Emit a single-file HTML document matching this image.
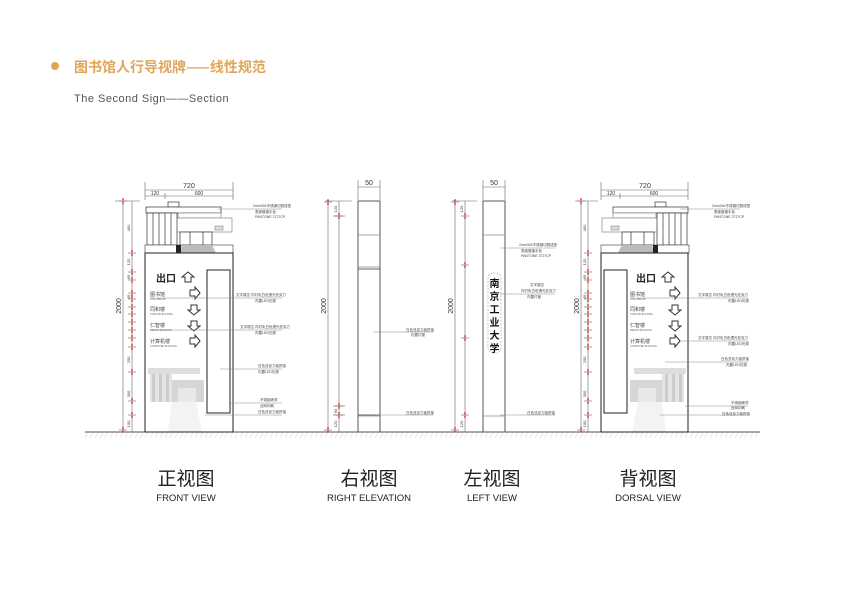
<!DOCTYPE html>
<html><head><meta charset="utf-8"><style>
html,body{margin:0;padding:0;background:#fff;}
svg{display:block;}
text{font-family:"Liberation Sans","Noto Sans CJK SC",sans-serif;}
.cj{font-family:"Noto Sans CJK SC",sans-serif;}
</style></head><body>
<svg width="844" height="600" viewBox="0 0 844 600" xmlns="http://www.w3.org/2000/svg">
<defs>
<pattern id="hatch" width="5" height="6" patternUnits="userSpaceOnUse">
<line x1="0" y1="6" x2="3" y2="0" stroke="#ccc" stroke-width="0.5"/>
</pattern>
<g id="bldg" fill="#fff" stroke="#333" stroke-width="0.7">
<rect x="168" y="202" width="11" height="5"/>
<rect x="146" y="207" width="75" height="6"/>
<rect x="178" y="213" width="43" height="5" stroke="#888"/>
<rect x="176" y="218" width="56" height="14" stroke="#888"/>
<rect x="147" y="213" width="30" height="32"/>
<line x1="153" y1="213" x2="153" y2="245"/><line x1="159" y1="213" x2="159" y2="245"/>
<line x1="165" y1="213" x2="165" y2="245"/><line x1="171" y1="213" x2="171" y2="245"/>
<rect x="180" y="232" width="32" height="13"/>
<line x1="190" y1="232" x2="190" y2="245"/><line x1="203" y1="232" x2="203" y2="245"/>
<rect x="145" y="245" width="88" height="8" stroke="#555"/>
<polygon points="182,245 212,245 216,253 180,253" fill="#bbb" stroke="none"/>
<rect x="176" y="245" width="5" height="8" fill="#222" stroke="none"/>
<rect x="215" y="226" width="8" height="4" fill="#ddd" stroke="#999"/>
</g>
<g id="photo" fill="#ddd" stroke="none">
<rect x="148" y="368" width="52" height="6"/>
<rect x="150" y="374" width="22" height="28" fill="#e4e4e4"/>
<rect x="152" y="374" width="3" height="28" fill="#ccc"/><rect x="159" y="374" width="3" height="28" fill="#ccc"/><rect x="166" y="374" width="3" height="28" fill="#ccc"/>
<rect x="172" y="380" width="32" height="22" fill="#d6d6d6"/>
<rect x="178" y="388" width="18" height="14" fill="#e8e8e8"/>
<polygon points="172,402 196,402 202,432 168,432" fill="#f3f3f3"/>
</g>
<g id="arR"><path d="M0,-3 L5,-3 L5,-6 L10,0 L5,6 L5,3 L0,3 Z" fill="#fff" stroke="#333" stroke-width="1"/></g>
<g id="arD"><path d="M-3,0 L-3,5 L-6,5 L0,10 L6,5 L3,5 L3,0 Z" fill="#fff" stroke="#333" stroke-width="1"/></g>
<g id="arU"><path d="M-3,10 L-3,5 L-6,5 L0,0 L6,5 L3,5 L3,10 Z" fill="#fff" stroke="#333" stroke-width="1"/></g>
<g id="tk"><line x1="-4" y1="0" x2="4" y2="0" stroke="#666" stroke-width="0.6"/><path d="M-1,-2.5 L1,-2.5 L0,0 Z M-1,2.5 L1,2.5 L0,0 Z" fill="#e00"/></g>
</defs>

<circle cx="55" cy="66" r="4" fill="#e0a45a"/>
<text x="74" y="72" class="cj" font-size="14" fill="#e0a45a" font-weight="bold">图书馆人行导视牌——线性规范</text>
<text x="74" y="102" font-size="11" fill="#555" letter-spacing="0.5">The Second Sign——Section</text>

<rect x="85" y="432" width="675" height="6" fill="url(#hatch)"/>
<line x1="85" y1="432" x2="760" y2="432" stroke="#555" stroke-width="1"/>

<!-- FRONT VIEW -->
<g stroke="#666" stroke-width="0.6" fill="none">
<line x1="145" y1="182" x2="145" y2="200"/><line x1="233" y1="182" x2="233" y2="200"/>
<line x1="145" y1="190" x2="233" y2="190"/><line x1="145" y1="196" x2="233" y2="196"/>
<line x1="165" y1="193" x2="165" y2="199"/>
<line x1="115" y1="201" x2="140" y2="201"/>
<line x1="123" y1="201" x2="123" y2="432"/><line x1="132" y1="201" x2="132" y2="432"/>
</g>
<text x="189" y="188" font-size="7" fill="#333" text-anchor="middle">720</text>
<text x="155" y="195" font-size="5" fill="#333" text-anchor="middle">120</text>
<text x="199" y="195" font-size="5" fill="#333" text-anchor="middle">600</text>
<text transform="translate(121,306) rotate(-90)" font-size="7" fill="#333" text-anchor="middle">2000</text>
<g font-size="4" fill="#333">
<text transform="translate(130,228) rotate(-90)" text-anchor="middle">400</text>
<text transform="translate(130,262) rotate(-90)" text-anchor="middle">120</text>
<text transform="translate(130,277) rotate(-90)" text-anchor="middle">60</text>
<text transform="translate(130,297) rotate(-90)" text-anchor="middle">40</text>
<text transform="translate(130,360) rotate(-90)" text-anchor="middle">200</text>
<text transform="translate(130,394) rotate(-90)" text-anchor="middle">300</text>
<text transform="translate(130,424) rotate(-90)" text-anchor="middle">100</text>
</g>
<g>
<use href="#tk" x="123" y="201"/><use href="#tk" x="132" y="253"/><use href="#tk" x="132" y="272"/><use href="#tk" x="132" y="280"/><use href="#tk" x="132" y="293"/><use href="#tk" x="132" y="299"/><use href="#tk" x="132" y="307"/><use href="#tk" x="132" y="314"/><use href="#tk" x="132" y="322"/><use href="#tk" x="132" y="330"/><use href="#tk" x="132" y="338"/><use href="#tk" x="132" y="347"/><use href="#tk" x="132" y="372"/><use href="#tk" x="132" y="401"/><use href="#tk" x="132" y="415"/><use href="#tk" x="123" y="430"/>
</g>
<use href="#bldg"/>
<use href="#photo"/>
<rect x="145" y="253" width="88" height="179" fill="none" stroke="#222" stroke-width="1"/>
<rect x="207" y="270" width="23" height="143" fill="none" stroke="#222" stroke-width="1"/>
<text x="156" y="282" class="cj" font-size="10" font-weight="bold" fill="#222">出口</text>
<use href="#arU" x="188" y="272"/>
<g class="cj" font-size="5" fill="#444">
<text x="150" y="296">图书馆</text><text x="150" y="311">同和楼</text><text x="150" y="327">仁智楼</text><text x="150" y="343">计算机楼</text>
</g>
<g font-size="2.5" fill="#666">
<text x="150" y="300">THE LIBRARY</text><text x="150" y="315">TONGHE BUILDING</text><text x="150" y="331">RENZHI BUILDING</text><text x="150" y="347">COMPUTER BUILDING</text>
</g>
<use href="#arR" x="190" y="293"/><use href="#arD" x="194" y="305"/><use href="#arD" x="194" y="321"/><use href="#arR" x="190" y="341"/>
<g stroke="#888" stroke-width="0.5">
<line x1="218" y1="209" x2="282" y2="209"/><line x1="150" y1="298" x2="282" y2="298"/><line x1="150" y1="330" x2="282" y2="330"/>
<line x1="220" y1="369" x2="282" y2="369"/><line x1="230" y1="403" x2="282" y2="403"/><line x1="205" y1="415" x2="282" y2="415"/>
</g>
<g class="cj" font-size="3.5" fill="#444">
<text x="253" y="207">2mm304不锈钢切割成型</text><text x="255" y="213">表面做镀手色</text><text x="255" y="218">PANTONE 2727CP</text>
<text x="236" y="296">文字镂空 内衬乳白色透光亚克力</text><text x="255" y="302">内置LED光源</text>
<text x="240" y="328">文字镂空 内衬乳白色透光亚克力</text><text x="255" y="334">内置LED光源</text>
<text x="258" y="367">白色亚克力板拼接</text><text x="258" y="373">内置LED光源</text>
<text x="260" y="401">不锈钢烤漆</text><text x="260" y="407">丝网印刷</text><text x="258" y="413">白色亚克力板拼接</text>
</g>

<!-- RIGHT ELEVATION -->
<g stroke="#666" stroke-width="0.6" fill="none">
<line x1="358" y1="180" x2="358" y2="200"/><line x1="380" y1="180" x2="380" y2="200"/>
<line x1="358" y1="187" x2="380" y2="187"/>
<line x1="325" y1="201" x2="352" y2="201"/>
<line x1="328" y1="201" x2="328" y2="432"/><line x1="339" y1="201" x2="339" y2="432"/>
<line x1="333" y1="216" x2="345" y2="216"/><line x1="333" y1="406" x2="345" y2="406"/><line x1="333" y1="415" x2="345" y2="415"/>
</g>
<use href="#tk" x="328" y="202"/><use href="#tk" x="339" y="216"/><use href="#tk" x="339" y="406"/><use href="#tk" x="339" y="415"/><use href="#tk" x="328" y="430"/>
<text x="369" y="185" font-size="7" fill="#333" text-anchor="middle">50</text>
<text transform="translate(326,306) rotate(-90)" font-size="7" fill="#333" text-anchor="middle">2000</text>
<g font-size="4" fill="#333"><text transform="translate(337,209) rotate(-90)" text-anchor="middle">120</text><text transform="translate(337,411) rotate(-90)" text-anchor="middle">60</text><text transform="translate(337,424) rotate(-90)" text-anchor="middle">120</text></g>
<rect x="358" y="201" width="22" height="231" fill="#fff" stroke="#556" stroke-width="1"/>
<g stroke="#889" stroke-width="0.7"><line x1="358" y1="235" x2="380" y2="235"/><line x1="358" y1="267" x2="380" y2="267"/><line x1="358" y1="269" x2="380" y2="269" stroke="#333"/><line x1="358" y1="415" x2="380" y2="415" stroke="#333"/><line x1="358" y1="416" x2="380" y2="416"/></g>
<g stroke="#888" stroke-width="0.5"><line x1="373" y1="332" x2="433" y2="332"/><line x1="375" y1="415" x2="433" y2="415"/></g>
<g class="cj" font-size="3.5" fill="#444"><text x="406" y="331">白色亚克力板拼接</text><text x="411" y="336">内置灯管</text><text x="406" y="414">白色亚克力板拼接</text></g>

<!-- LEFT VIEW -->
<g stroke="#666" stroke-width="0.6" fill="none">
<line x1="483" y1="180" x2="483" y2="200"/><line x1="505" y1="180" x2="505" y2="200"/>
<line x1="483" y1="187" x2="505" y2="187"/>
<line x1="452" y1="201" x2="477" y2="201"/>
<line x1="455" y1="201" x2="455" y2="432"/><line x1="465" y1="201" x2="465" y2="432"/>
</g>
<use href="#tk" x="455" y="202"/><use href="#tk" x="465" y="216"/><use href="#tk" x="465" y="265"/><use href="#tk" x="465" y="338"/><use href="#tk" x="465" y="415"/><use href="#tk" x="455" y="430"/>
<text x="494" y="185" font-size="7" fill="#333" text-anchor="middle">50</text>
<text transform="translate(453,306) rotate(-90)" font-size="7" fill="#333" text-anchor="middle">2000</text>
<g font-size="4" fill="#333"><text transform="translate(463,209) rotate(-90)" text-anchor="middle">120</text><text transform="translate(463,424) rotate(-90)" text-anchor="middle">120</text></g>
<rect x="483" y="201" width="22" height="231" fill="#fff" stroke="#556" stroke-width="1"/>
<line x1="483" y1="235" x2="505" y2="235" stroke="#889" stroke-width="0.7"/>
<line x1="483" y1="416" x2="505" y2="416" stroke="#889" stroke-width="0.7"/>
<rect x="488" y="273" width="13" height="80" rx="5" fill="none" stroke="#999" stroke-width="0.6" stroke-dasharray="2,1.5"/>
<g class="cj" font-size="10" font-weight="bold" fill="#111" text-anchor="middle">
<text x="494.5" y="287">南</text><text x="494.5" y="300">京</text><text x="494.5" y="313">工</text><text x="494.5" y="326">业</text><text x="494.5" y="339">大</text><text x="494.5" y="352">学</text>
</g>
<g stroke="#888" stroke-width="0.5"><line x1="500" y1="248" x2="555" y2="248"/><line x1="500" y1="294" x2="555" y2="294"/><line x1="500" y1="415" x2="555" y2="415"/></g>
<g class="cj" font-size="3.5" fill="#444">
<text x="519" y="246">2mm304不锈钢切割成型</text><text x="521" y="252">表面做镀手色</text><text x="521" y="257">PANTONE 2727CP</text>
<text x="530" y="286">文字镂空</text><text x="521" y="292">内衬乳白色透光亚克力</text><text x="527" y="298">内置灯管</text>
<text x="527" y="414">白色亚克力板拼接</text>
</g>

<!-- DORSAL VIEW -->
<g stroke="#666" stroke-width="0.6" fill="none">
<line x1="601" y1="182" x2="601" y2="200"/><line x1="688" y1="182" x2="688" y2="200"/>
<line x1="601" y1="190" x2="688" y2="190"/><line x1="601" y1="196" x2="688" y2="196"/>
<line x1="620" y1="193" x2="620" y2="199"/>
<line x1="575" y1="201" x2="598" y2="201"/>
<line x1="581" y1="201" x2="581" y2="432"/><line x1="588" y1="201" x2="588" y2="432"/>
</g>
<text x="645" y="188" font-size="7" fill="#333" text-anchor="middle">720</text>
<text x="611" y="195" font-size="5" fill="#333" text-anchor="middle">120</text>
<text x="654" y="195" font-size="5" fill="#333" text-anchor="middle">600</text>
<text transform="translate(579,306) rotate(-90)" font-size="7" fill="#333" text-anchor="middle">2000</text>
<g font-size="4" fill="#333">
<text transform="translate(586,228) rotate(-90)" text-anchor="middle">400</text>
<text transform="translate(586,262) rotate(-90)" text-anchor="middle">120</text>
<text transform="translate(586,277) rotate(-90)" text-anchor="middle">60</text>
<text transform="translate(586,297) rotate(-90)" text-anchor="middle">40</text>
<text transform="translate(586,360) rotate(-90)" text-anchor="middle">200</text>
<text transform="translate(586,394) rotate(-90)" text-anchor="middle">300</text>
<text transform="translate(586,424) rotate(-90)" text-anchor="middle">100</text>
</g>
<g>
<use href="#tk" x="581" y="201"/><use href="#tk" x="588" y="253"/><use href="#tk" x="588" y="272"/><use href="#tk" x="588" y="280"/><use href="#tk" x="588" y="293"/><use href="#tk" x="588" y="299"/><use href="#tk" x="588" y="307"/><use href="#tk" x="588" y="314"/><use href="#tk" x="588" y="322"/><use href="#tk" x="588" y="330"/><use href="#tk" x="588" y="338"/><use href="#tk" x="588" y="347"/><use href="#tk" x="588" y="372"/><use href="#tk" x="588" y="401"/><use href="#tk" x="588" y="415"/><use href="#tk" x="581" y="430"/>
</g>
<g transform="translate(834,0) scale(-1,1)"><use href="#bldg"/><use href="#photo"/>
<rect x="207" y="270" width="23" height="143" fill="none" stroke="#222" stroke-width="1"/></g>
<rect x="601" y="253" width="87" height="179" fill="none" stroke="#222" stroke-width="1"/>
<text x="636" y="282" class="cj" font-size="10" font-weight="bold" fill="#222">出口</text>
<use href="#arU" x="668" y="272"/>
<g class="cj" font-size="5" fill="#444">
<text x="630" y="296">图书馆</text><text x="630" y="311">同和楼</text><text x="630" y="327">仁智楼</text><text x="630" y="343">计算机楼</text>
</g>
<g font-size="2.5" fill="#666">
<text x="630" y="300">THE LIBRARY</text><text x="630" y="315">TONGHE BUILDING</text><text x="630" y="331">RENZHI BUILDING</text><text x="630" y="347">COMPUTER BUILDING</text>
</g>
<use href="#arR" x="670" y="293"/><use href="#arD" x="675" y="305"/><use href="#arD" x="675" y="321"/><use href="#arR" x="670" y="341"/>
<g stroke="#888" stroke-width="0.5">
<line x1="680" y1="209" x2="740" y2="209"/><line x1="630" y1="298" x2="748" y2="298"/><line x1="680" y1="341" x2="748" y2="341"/>
<line x1="665" y1="362" x2="748" y2="362"/><line x1="685" y1="406" x2="748" y2="406"/><line x1="660" y1="415" x2="748" y2="415"/>
</g>
<g class="cj" font-size="3.5" fill="#444">
<text x="712" y="207">2mm304不锈钢切割成型</text><text x="714" y="213">表面做镀手色</text><text x="714" y="218">PANTONE 2727CP</text>
<text x="698" y="296">文字镂空 内衬乳白色透光亚克力</text><text x="728" y="302">内置LED光源</text>
<text x="698" y="339">文字镂空 内衬乳白色透光亚克力</text><text x="728" y="345">内置LED光源</text>
<text x="721" y="360">白色亚克力板拼接</text><text x="726" y="366">内置LED光源</text>
<text x="731" y="404">不锈钢烤漆</text><text x="731" y="409">丝网印刷</text><text x="722" y="415">白色亚克力板拼接</text>
</g>

<g class="cj" font-size="19" fill="#222" text-anchor="middle">
<text x="186" y="485">正视图</text><text x="369" y="485">右视图</text><text x="492" y="485">左视图</text><text x="648" y="485">背视图</text>
</g>
<g font-size="9.5" fill="#222" text-anchor="middle">
<text x="186" y="501">FRONT VIEW</text><text x="369" y="501">RIGHT ELEVATION</text><text x="492" y="501">LEFT VIEW</text><text x="648" y="501">DORSAL VIEW</text>
</g>
</svg>
</body></html>
